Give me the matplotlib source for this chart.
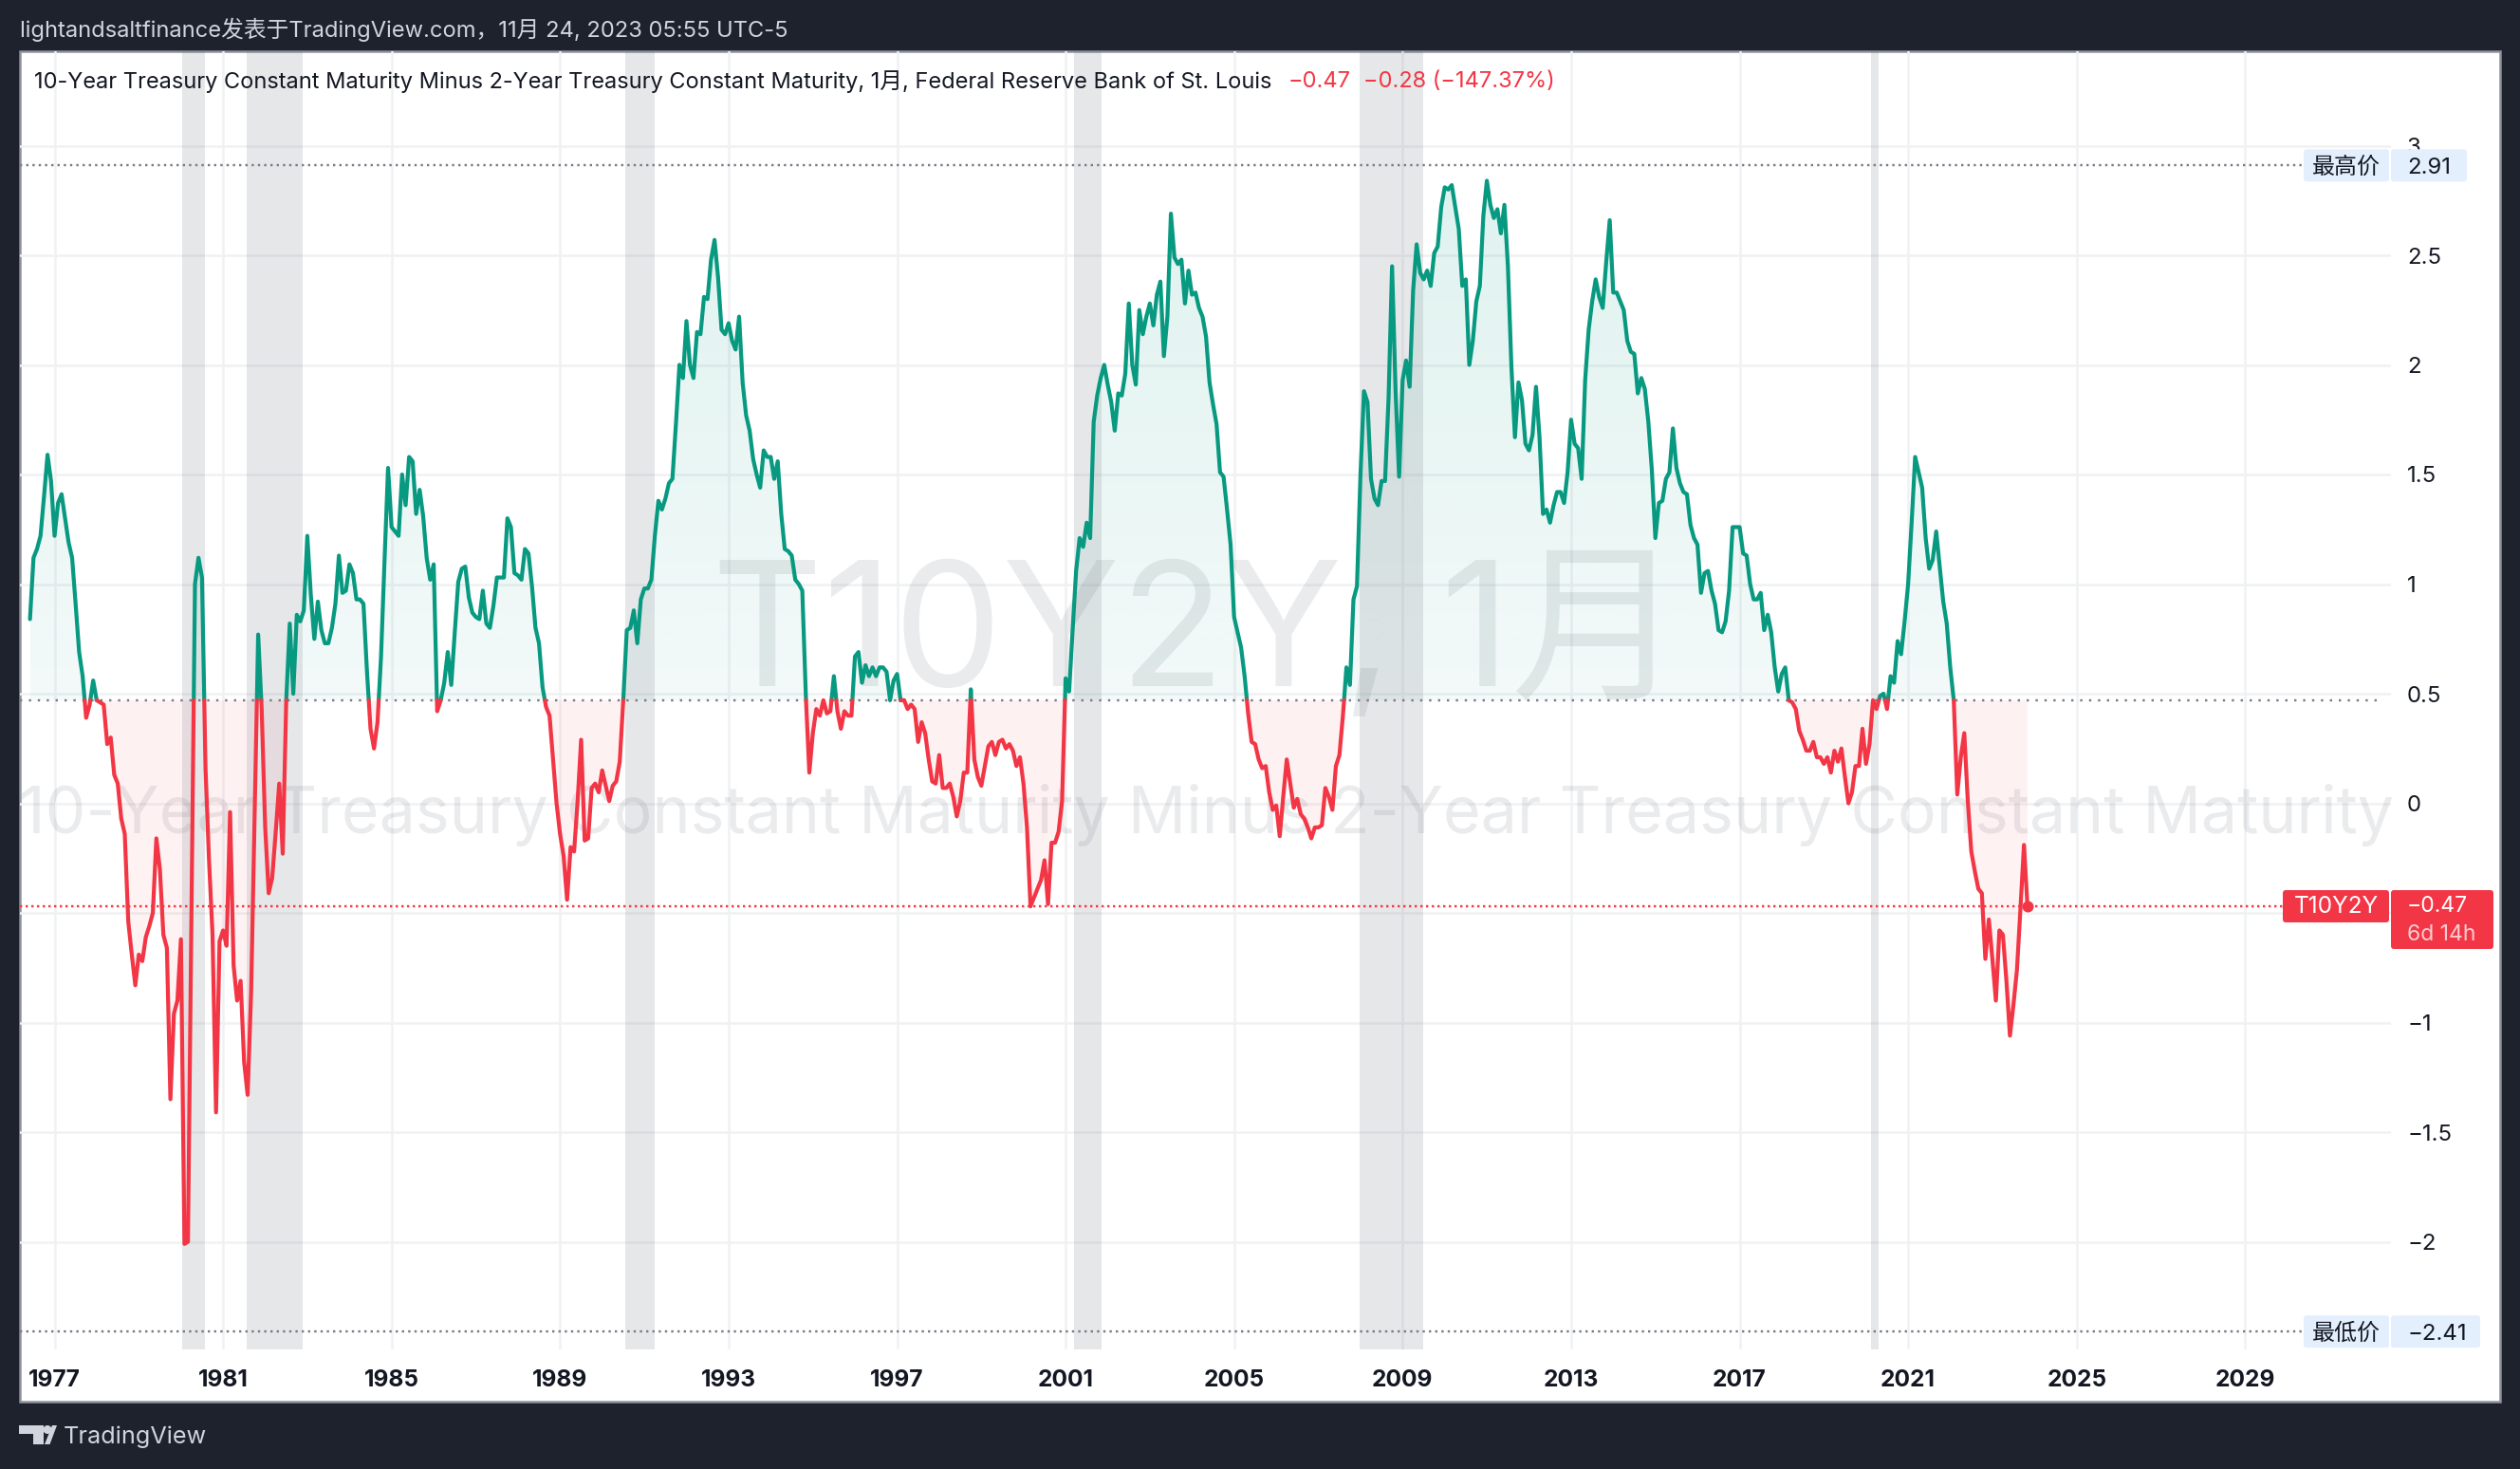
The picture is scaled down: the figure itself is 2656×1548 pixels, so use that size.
import numpy as np
import matplotlib
matplotlib.use('Agg')
import matplotlib.pyplot as plt
from matplotlib.patches import FancyBboxPatch, Polygon, Circle

# monthly T10Y2Y, Jun 1976 .. Nov 2023
spread_1970s = [
    .84, 1.12, 1.16, 1.22, 1.40, 1.59, 1.47,
    1.22, 1.37, 1.41, 1.30, 1.19, 1.12, .91, .69, .58, .39, .45, .56,
    .47, .46, .45, .27, .30, .13, .09, -.07, -.14, -.54, -.69, -.83,
    -.69, -.72, -.61, -.56, -.50, -.16, -.30, -.60, -.66, -1.35, -.96, -.90,
]
spread_1980s = [
    -.62, -2.01, -2.00, -.50, 1.00, 1.12, 1.03, .16, -.26, -.60, -1.41, -.63,
    -.58, -.65, -.04, -.74, -.90, -.81, -1.18, -1.33, -.86, -.05, .77, .43,
    -.11, -.41, -.34, -.13, .09, -.23, .47, .82, .50, .86, .83, .88,
    1.22, .95, .75, .92, .79, .73, .73, .80, .91, 1.13, .96, .97,
    1.09, 1.05, .93, .93, .91, .60, .34, .25, .37, .67, 1.11, 1.53,
    1.26, 1.24, 1.22, 1.50, 1.36, 1.58, 1.56, 1.32, 1.43, 1.31, 1.12, 1.02,
    1.09, .42, .47, .55, .69, .54, .78, 1.01, 1.07, 1.08, .94, .87,
    .85, .84, .97, .82, .80, .90, 1.03, 1.03, 1.03, 1.30, 1.26, 1.05,
    1.04, 1.02, 1.16, 1.14, .99, .80, .73, .53, .44, .40, .20, .00,
    -.14, -.24, -.44, -.20, -.22, .01, .29, -.17, -.16, .07, .09, .05,
]
spread_1990s = [
    .15, .08, .01, .08, .10, .19, .47, .79, .80, .88, .73, .93,
    .98, .98, 1.02, 1.22, 1.38, 1.34, 1.39, 1.46, 1.48, 1.73, 2.00, 1.94,
    2.20, 2.00, 1.94, 2.15, 2.14, 2.31, 2.30, 2.48, 2.57, 2.40, 2.16, 2.14,
    2.19, 2.11, 2.07, 2.22, 1.92, 1.77, 1.70, 1.57, 1.50, 1.44, 1.61, 1.58,
    1.58, 1.48, 1.56, 1.32, 1.16, 1.15, 1.13, 1.02, 1.00, .97, .49, .14,
    .32, .43, .40, .47, .41, .42, .58, .42, .34, .42, .40, .40,
    .67, .69, .55, .63, .58, .62, .58, .62, .62, .60, .47, .56,
    .59, .47, .47, .43, .45, .43, .28, .37, .32, .20, .10, .09,
    .22, .07, .07, .09, .03, -.06, .01, .14, .14, .52, .20, .12,
    .08, .17, .26, .28, .22, .28, .29, .25, .27, .24, .17, .21,
]
spread_2000s = [
    .09, -.11, -.47, -.43, -.39, -.35, -.26, -.46, -.18, -.18, -.13, .01,
    .57, .51, .79, 1.06, 1.21, 1.17, 1.28, 1.21, 1.74, 1.86, 1.94, 2.00,
    1.91, 1.83, 1.70, 1.87, 1.86, 1.96, 2.28, 2.00, 1.91, 2.25, 2.14, 2.22,
    2.28, 2.18, 2.32, 2.38, 2.04, 2.22, 2.69, 2.49, 2.46, 2.48, 2.28, 2.43,
    2.32, 2.33, 2.26, 2.22, 2.13, 1.92, 1.82, 1.73, 1.51, 1.49, 1.34, 1.18,
    .85, .78, .71, .58, .41, .28, .27, .20, .16, .17, .05, -.03,
    -.01, -.15, .03, .20, .09, -.02, .02, -.05, -.07, -.11, -.16, -.11,
    -.11, -.10, .07, .03, -.03, .17, .22, .40, .62, .54, .93, .99,
    1.50, 1.88, 1.83, 1.48, 1.39, 1.36, 1.47, 1.47, 1.85, 2.45, 1.88, 1.49,
    1.93, 2.02, 1.90, 2.34, 2.55, 2.42, 2.39, 2.43, 2.36, 2.51, 2.54, 2.72,
]
spread_2010s = [
    2.81, 2.80, 2.82, 2.72, 2.62, 2.36, 2.39, 2.00, 2.11, 2.29, 2.36, 2.68,
    2.84, 2.73, 2.67, 2.71, 2.60, 2.73, 2.45, 1.99, 1.67, 1.92, 1.84, 1.64,
    1.61, 1.68, 1.90, 1.67, 1.32, 1.34, 1.28, 1.36, 1.42, 1.42, 1.37, 1.51,
    1.75, 1.64, 1.62, 1.48, 1.93, 2.16, 2.29, 2.39, 2.31, 2.26, 2.47, 2.66,
    2.33, 2.33, 2.29, 2.25, 2.11, 2.06, 2.05, 1.87, 1.94, 1.89, 1.74, 1.52,
    1.21, 1.37, 1.38, 1.48, 1.51, 1.71, 1.53, 1.46, 1.42, 1.41, 1.27, 1.21,
    1.18, .96, 1.05, 1.06, .97, .91, .79, .78, .83, .97, 1.26, 1.26,
    1.26, 1.14, 1.13, 1.00, .93, .93, .96, .79, .86, .78, .62, .51,
    .59, .62, .47, .46, .43, .33, .29, .24, .24, .28, .21, .21,
    .18, .21, .14, .24, .19, .25, .12, .00, .05, .17, .17, .34,
]
spread_2020s = [
    .18, .27, .47, .43, .49, .50, .43, .58, .55, .74, .68, .83,
    1.00, 1.28, 1.58, 1.51, 1.44, 1.21, 1.07, 1.11, 1.24, 1.08, .92, .82,
    .62, .47, .04, .21, .32, .01, -.22, -.31, -.39, -.41, -.71, -.53,
    -.71, -.90, -.58, -.60, -.81, -1.06, -.92, -.76, -.48, -.19, -.47,
]
recession_start = [1980.04, 1981.55, 1990.54, 2001.20, 2007.97, 2020.13]
recession_end = [1980.58, 1982.90, 1991.24, 2001.86, 2009.48, 2020.31]
year_ticks = list(range(1977, 2030, 4))
price_ticks = [3, 2.5, 2, 1.5, 1, 0.5, 0, -0.5, -1, -1.5, -2]
price_labels = ['3', '2.5', '2', '1.5', '1', '0.5', '0', '−0.5', '−1', '−1.5', '−2']
base_value = 0.47
last_value = -0.47
high_value = 2.91
low_value = -2.41

GREEN = '#089981'
RED = '#f23645'
DARK = '#1e222d'
INK = '#131722'
FONTS = ['Inter', 'Noto Sans CJK SC', 'DejaVu Sans']
DPI = 200
W, H = 2656, 1548


def fs(px):
    return px * 72 / DPI


# pixel <-> data mapping of the pane
def yr(px):
    return 1977 + (px - 57.5) / 44.4


def val(py):
    return (846.5 - py) / 231.0


def py(v):
    return 846.5 - 231.0 * v


plt.rcParams['font.family'] = FONTS
plt.rcParams['lines.scale_dashes'] = False
plt.rcParams['axes.unicode_minus'] = False

fig = plt.figure(figsize=(W / DPI, H / DPI), dpi=DPI, facecolor=DARK)

# white chart frame + overlay in pixel coords for labels
frame = fig.add_axes([0, 0, 1, 1], zorder=0)
frame.set_xlim(0, W); frame.set_ylim(H, 0); frame.axis('off')
frame.add_patch(plt.Rectangle((21, 54), 2614, 1423, fc='white', ec='#8f929b', lw=fs(2.5)))

L, T, R, B = 21, 54, 2520, 1422
ax = fig.add_axes([L / W, 1 - B / H, (R - L) / W, (B - T) / H], zorder=1)
ax.patch.set_alpha(0)
ax.set_xlim(yr(L), yr(R))
ax.set_ylim(val(B), val(T))
for s in ax.spines.values():
    s.set_visible(False)

ax.set_xticks(year_ticks)
ax.set_xticklabels([str(y) for y in year_ticks], fontsize=fs(24.5), fontweight='bold', color=INK)
ax.set_yticks(price_ticks)
ax.set_yticklabels(price_labels, fontsize=fs(24), color=INK)
ax.yaxis.tick_right()
ax.tick_params(axis='x', length=0, pad=fs(21))
ax.tick_params(axis='y', length=0, pad=fs(17))
ax.grid(True, color='#f0f1f3', lw=fs(2.5), zorder=0)
ax.set_axisbelow(True)

# watermarks
ax.text(yr(1262), val(672), 'T10Y2Y, 1月', fontsize=fs(182), color='#787b86', alpha=0.15,
        ha='center', va='center', zorder=1)
ax.text(yr(1272), val(859), '10-Year Treasury Constant Maturity Minus 2-Year Treasury Constant Maturity',
        fontsize=fs(68), color='#787b86', alpha=0.15, ha='center', va='center', zorder=1)

spread = np.array(spread_1970s + spread_1980s + spread_1990s + spread_2000s
                  + spread_2010s + spread_2020s)
dates = 1976 + 5 / 12 + np.arange(spread.size) / 12

# add the points where the line crosses the base value
xs, ys = [dates[0]], [spread[0]]
for i in range(1, spread.size):
    a, b = spread[i - 1], spread[i]
    if (a - base_value) * (b - base_value) < 0:
        t = (base_value - a) / (b - a)
        xs.append(dates[i - 1] + t * (dates[i] - dates[i - 1]))
        ys.append(base_value)
    xs.append(dates[i])
    ys.append(b)
xs, ys = np.array(xs), np.array(ys)


def gradient_fill(y2, color, a_base, a_far, lo, hi):
    poly = ax.fill_between(xs, base_value, y2, color='none', lw=0)
    rgb = matplotlib.colors.to_rgb(color)
    img = np.zeros((256, 1, 4))
    img[..., :3] = rgb
    far_top = hi > base_value
    alpha = np.linspace(a_far, a_base, 256) if far_top else np.linspace(a_base, a_far, 256)
    img[..., 3] = alpha[:, None]
    im = ax.imshow(img, extent=(xs[0], xs[-1], lo, hi) if far_top else (xs[0], xs[-1], hi, lo),
                   origin='upper', aspect='auto', interpolation='bilinear', zorder=2)
    im.set_clip_path(poly.get_paths()[0], transform=ax.transData)


gradient_fill(np.maximum(ys, base_value), GREEN, 0.05, 0.13, base_value, 2.91)
gradient_fill(np.minimum(ys, base_value), RED, 0.055, 0.07, -2.41, base_value)
ax.set_xlim(yr(L), yr(R))
ax.set_ylim(val(B), val(T))

for a, b in zip(recession_start, recession_end):
    ax.axvspan(a, b, color='#787b86', alpha=0.18, lw=0, zorder=3)

# reference lines
ax.plot([yr(L), yr(2512)], [base_value, base_value], color='#787b86', lw=fs(2.4),
        ls=(0, (fs(2.4), fs(7))), zorder=4)
ax.plot([yr(L), yr(2428)], [high_value, high_value], color='#787b86', lw=fs(2.4),
        ls=(0, (fs(2.4), fs(4.2))), zorder=4)
ax.plot([yr(L), yr(2428)], [low_value, low_value], color='#787b86', lw=fs(2.4),
        ls=(0, (fs(2.4), fs(4.2))), zorder=4)
ax.plot([yr(L), yr(2406)], [last_value, last_value], color=RED, lw=fs(2.4),
        ls=(0, (fs(2.4), fs(3.6))), zorder=4)

ax.plot(xs, np.where(ys >= base_value, ys, np.nan), color=GREEN, lw=fs(4.2), zorder=5,
        solid_capstyle='round', solid_joinstyle='round')
ax.plot(xs, np.where(ys <= base_value, ys, np.nan), color=RED, lw=fs(4.2), zorder=5,
        solid_capstyle='round', solid_joinstyle='round')
ax.plot(dates[-1], spread[-1], 'o', color=RED, ms=fs(12), mew=0, zorder=6)

# overlay for header, legend and price labels
ov = fig.add_axes([0, 0, 1, 1], zorder=5)
ov.set_xlim(0, W); ov.set_ylim(H, 0); ov.axis('off'); ov.patch.set_alpha(0)


def box(x0, y0, x1, y1, color):
    ov.add_patch(FancyBboxPatch((x0 + 3, y0 + 3), x1 - x0 - 6, y1 - y0 - 6, fc=color, ec='none',
                                boxstyle='round,pad=3,rounding_size=3'))


ov.text(21, 31, 'lightandsaltfinance发表于TradingView.com，11月 24, 2023 05:55 UTC-5',
        fontsize=fs(23.7), color='#d1d4dc', va='center')
ov.text(36, 86, '10-Year Treasury Constant Maturity Minus 2-Year Treasury Constant Maturity, 1月, '
        'Federal Reserve Bank of St. Louis', fontsize=fs(23.6), color=INK, va='center')
ov.text(1358, 86, '−0.47', fontsize=fs(23.6), color=RED, va='center')
ov.text(1437, 86, '−0.28 (−147.37%)', fontsize=fs(23.6), color=RED, va='center')

BLUE = '#e3effd'
box(2428, py(high_value) - 17, 2518, py(high_value) + 17, BLUE)
box(2520, py(high_value) - 17, 2600, py(high_value) + 17, BLUE)
ov.text(2473, py(high_value) + 2.5, '最高价', fontsize=fs(24), color=INK, ha='center', va='center')
ov.text(2537, py(high_value) + 2.5, '2.91', fontsize=fs(24), color=INK, va='center')
box(2428, py(low_value) - 17, 2518, py(low_value) + 17, BLUE)
box(2520, py(low_value) - 17, 2614, py(low_value) + 17, BLUE)
ov.text(2473, py(low_value) + 2.5, '最低价', fontsize=fs(24), color=INK, ha='center', va='center')
ov.text(2537, py(low_value) + 2.5, '−2.41', fontsize=fs(24), color=INK, va='center')

box(2406, 938, 2518, 972, RED)
box(2520, 938, 2628, 1000, RED)
ov.text(2462, 956, 'T10Y2Y', fontsize=fs(24.5), color='white', ha='center', va='center')
ov.text(2537, 955, '−0.47', fontsize=fs(23), color='white', va='center')
ov.text(2537, 985, '6d 14h', fontsize=fs(23), color='white', alpha=0.75, va='center')

# footer logo
ov.add_patch(Polygon([(20, 1502), (46, 1502), (46, 1522), (35, 1522), (35, 1511), (20, 1511)],
                     fc='#d1d4dc', ec='none'))
ov.add_patch(Circle((50, 1506.5), 4.5, fc='#d1d4dc', ec='none'))
ov.add_patch(Polygon([(47, 1522), (55, 1502), (60, 1502), (52.5, 1522)],
                     fc='#d1d4dc', ec='none'))
ov.text(67, 1514, 'TradingView', fontsize=fs(25.3), color='#d1d4dc', va='center')

fig.savefig('out.png', dpi=DPI, facecolor=DARK)
